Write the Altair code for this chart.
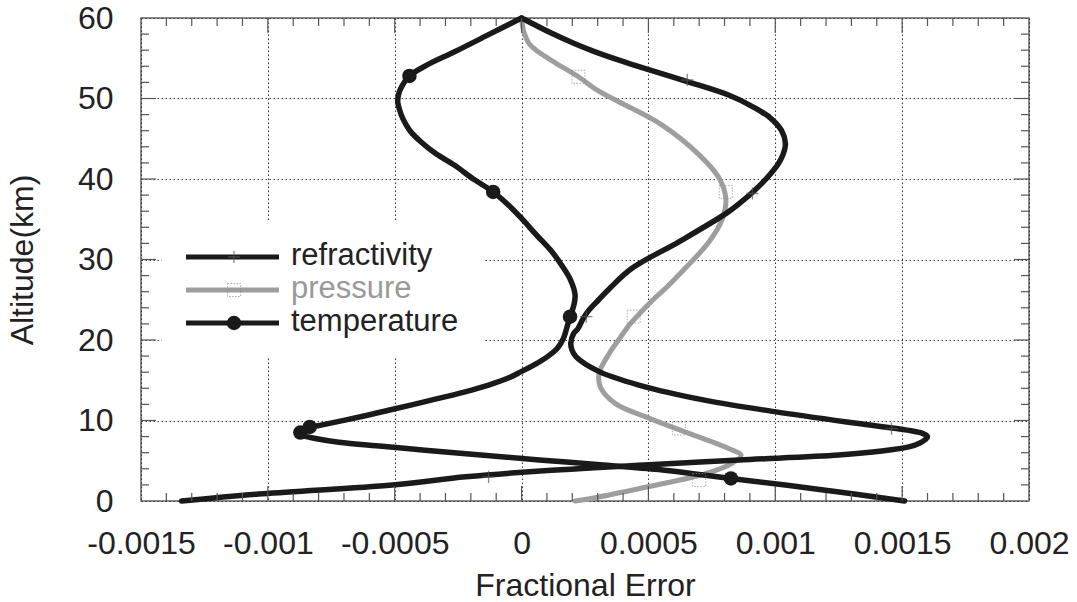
import altair as alt
import pandas as pd

# Fractional retrieval error against altitude (km) for three quantities
refr_alt = [60.0, 58.1, 56.8, 55.8, 54.7, 53.7, 52.1, 50.4, 49.0, 47.6, 46.0, 44.4,
            43.0, 41.8, 40.6, 39.4, 38.2, 37.0, 35.7, 32.2, 28.9, 26.5, 25.0, 23.5,
            22.5, 21.4, 20.8, 19.6, 18.8, 17.9, 16.1, 14.4, 12.5, 11.1, 9.65, 8.8,
            8.4, 8.0, 7.6, 7.2, 6.75, 6.2, 5.7, 5.1, 4.5, 3.7, 3.0, 2.0, 0.9, 0.0]
refr_err = [0.0, 0.000119, 0.00021, 0.00029, 0.00039, 0.000488, 0.000653, 0.000818,
            0.00091, 0.00098, 0.001025, 0.00104, 0.00103, 0.00101, 0.00098, 0.000945,
            0.000905, 0.00086, 0.000805, 0.00062, 0.000435, 0.00035, 0.000304, 0.00026,
            0.00024, 0.000222, 0.000205, 0.000194, 0.000198, 0.000215, 0.000304,
            0.000462, 0.000726, 0.000997, 0.00132, 0.00152, 0.00158, 0.0016, 0.00159,
            0.00157, 0.00153, 0.00142, 0.00125, 0.000858, 0.000502, 0.00006, -0.00022,
            -0.00051, -0.00102, -0.00134]

pres_alt = [60.0, 58.8, 57.9, 56.8, 55.8, 54.5, 52.7, 51.0, 49.6, 46.7, 43.0, 40.1,
            37.6, 35.1, 32.2, 28.1, 26.5, 25.0, 23.5, 22.0, 20.0, 18.3, 15.9, 14.2,
            12.1, 10.3, 8.4, 6.5, 5.7, 4.7, 3.4, 1.8, 0.5, 0.0]
pres_err = [0.0, 0.000005, 0.000013, 0.00003, 0.000066, 0.00013, 0.000224, 0.0003,
            0.000383, 0.000554, 0.0007, 0.000779, 0.000805, 0.000792, 0.000739, 0.00062,
            0.00057, 0.000518, 0.000472, 0.000428, 0.000382, 0.000345, 0.000306,
            0.00031, 0.00037, 0.000502, 0.00066, 0.000818, 0.000865, 0.000831,
            0.000726, 0.000502, 0.000304, 0.000211]

temp_alt = [60.0, 57.9, 55.8, 54.2, 52.8, 51.5, 50.5, 49.6, 48.5, 47.5, 46.0, 44.6,
            43.2, 41.7, 40.0, 38.4, 36.7, 35.1, 33.0, 31.0, 29.2, 27.6, 25.6, 24.2,
            22.9, 21.5, 20.2, 19.0, 18.0, 17.0, 16.1, 15.3, 14.4, 13.5, 12.5, 11.3,
            10.5, 9.4, 9.15, 8.7, 8.4, 8.1, 7.8, 7.3, 6.8, 6.3, 5.7, 5.1, 4.5, 3.9,
            3.3, 2.8, 1.5, 0.0]
temp_err = [0.0, -0.000132, -0.000264, -0.00037, -0.000442, -0.000472, -0.000485,
            -0.000488, -0.00048, -0.000468, -0.00044, -0.000396, -0.00034, -0.000264,
            -0.00019, -0.000112, -0.00005, 0.0, 0.00006, 0.000119, 0.00016, 0.000191,
            0.000211, 0.000205, 0.000191, 0.000178, 0.000165, 0.000142, 0.000105,
            0.000055, 0.0, -0.00005, -0.00013, -0.00023, -0.00036, -0.00052, -0.00063,
            -0.000795, -0.000835, -0.00087, -0.000877, -0.00086, -0.000818, -0.00072,
            -0.00055, -0.00038, -0.00016, 0.00007, 0.00031, 0.00054, 0.0007, 0.000825,
            0.00116, 0.00151]

# Symbol positions along each profile
refr_mk_alt = [52.3, 38.2, 22.9, 9.0, 3.0]
refr_mk_err = [0.000653, 0.00091, 0.000255, 0.001458, -0.00013]
pres_mk_alt = [52.7, 38.4, 22.9, 9.0, 2.6]
pres_mk_err = [0.000224, 0.000805, 0.000442, 0.00062, 0.0007]
temp_mk_alt = [52.8, 38.4, 22.9, 9.2, 8.5, 2.8]
temp_mk_err = [-0.000442, -0.000112, 0.000191, -0.000835, -0.000872, 0.000825]

series_names = ["refractivity", "pressure", "temperature"]

x_ticks = [-0.0015, -0.001, -0.0005, 0, 0.0005, 0.001, 0.0015, 0.002]
y_ticks = [0, 10, 20, 30, 40, 50, 60]

W, H = 888, 483
FONT = "Liberation Sans"
TXT = "#222222"
DARK = "#1a1a1a"
GREY = "#9e9e9e"
GRID = "#3a3a3a"

x_scale = alt.Scale(domain=[-0.0015, 0.002], nice=False, zero=False)
y_scale = alt.Scale(domain=[0, 60], nice=False, zero=False)

x_axis = alt.Axis(
    values=x_ticks,
    labelExpr="datum.value < 0 ? '-' + format(-datum.value, '~g') : format(datum.value, '~g')",
    grid=True, gridDash=[1.5, 2.5], gridColor=GRID, gridWidth=1.1,
    ticks=False, tickSize=0, domain=False,
    labelFont=FONT, labelFontSize=32, labelColor=TXT, labelPadding=27,
    labelFlush=False, labelOverlap=False,
    title="Fractional Error", titleFont=FONT, titleFontSize=32,
    titleFontWeight="normal", titleColor=TXT,
    titleX=W / 2, titleY=94, titleBaseline="alphabetic",
)
y_axis = alt.Axis(
    values=y_ticks,
    grid=True, gridDash=[1.5, 2.5], gridColor=GRID, gridWidth=1.1,
    ticks=False, tickSize=0, domain=False,
    labelFont=FONT, labelFontSize=32, labelColor=TXT, labelPadding=28,
    labelFlush=False, labelOverlap=False,
    title="Altitude(km)", titleFont=FONT, titleFontSize=32,
    titleFontWeight="normal", titleColor=TXT,
    titleX=-109, titleY=H / 2, titleBaseline="alphabetic", titleAngle=270,
)


def X():
    return alt.X("err:Q", scale=x_scale, axis=x_axis)


def Y():
    return alt.Y("alt:Q", scale=y_scale, axis=y_axis)


def profile(alts, errs):
    return pd.DataFrame({"alt": alts, "err": errs, "k": list(range(len(alts)))})


def points(alts, errs):
    return pd.DataFrame({"alt": alts, "err": errs})


one = pd.DataFrame({"u": [0]})

# White panel behind the key, masking the grid
key_box = alt.Chart(one).mark_rect(color="white").encode(
    x=alt.value(21), x2=alt.value(343), y=alt.value(202), y2=alt.value(339)
)


def curve(df, color, width):
    return alt.Chart(df).mark_line(
        color=color, strokeWidth=width, interpolate="catmull-rom",
        strokeJoin="round", strokeCap="round"
    ).encode(x=X(), y=Y(), order="k:Q")


refr_line = curve(profile(refr_alt, refr_err), DARK, 5.5)
pres_line = curve(profile(pres_alt, pres_err), GREY, 5)
temp_line = curve(profile(temp_alt, temp_err), DARK, 5.5)

PLUS = "M0,-1V1M-1,0H1"
refr_marks = alt.Chart(points(refr_mk_alt, refr_mk_err)).mark_point(
    shape=PLUS, size=150, stroke="#555555", strokeWidth=1.3, filled=False
).encode(x=X(), y=Y())
pres_marks = alt.Chart(points(pres_mk_alt, pres_mk_err)).mark_point(
    shape="square", size=170, stroke="#8a8a8a", strokeWidth=1, strokeDash=[1.5, 1.5],
    filled=False
).encode(x=X(), y=Y())
temp_marks = alt.Chart(points(temp_mk_alt, temp_mk_err)).mark_point(
    shape="circle", size=210, color=DARK, filled=True, opacity=1
).encode(x=X(), y=Y())

# Inward tick marks on all four sides of the frame
x_minor = [round(-0.0015 + i * 0.0001, 4) for i in range(1, 35) if i % 5]
x_major = [v for v in x_ticks[1:-1]]
y_minor = [v for v in range(2, 60, 2) if v % 10]
y_major = [v for v in y_ticks[1:-1]]
TICK = "#555555"


def xticks(vals, length):
    df = pd.DataFrame({"err": vals})
    bottom = alt.Chart(df).mark_rule(color=TICK, strokeWidth=1.2).encode(
        x=X(), y=alt.value(H), y2=alt.value(H - length))
    top = alt.Chart(df).mark_rule(color=TICK, strokeWidth=1.2).encode(
        x=X(), y=alt.value(0), y2=alt.value(length))
    return [bottom, top]


def yticks(vals, length):
    df = pd.DataFrame({"alt": vals})
    left = alt.Chart(df).mark_rule(color=TICK, strokeWidth=1.2).encode(
        y=Y(), x=alt.value(0), x2=alt.value(length))
    right = alt.Chart(df).mark_rule(color=TICK, strokeWidth=1.2).encode(
        y=Y(), x=alt.value(W), x2=alt.value(W - length))
    return [left, right]


tick_layers = xticks(x_minor, 8) + xticks(x_major, 15) + yticks(y_minor, 8) + yticks(y_major, 15)

# Key: line sample, symbol and label for each series
key_layers = []
row_y = [239, 272, 305]
line_colors = [DARK, GREY, DARK]
text_colors = [TXT, "#9a9a9a", TXT]
for i, name in enumerate(series_names):
    df = pd.DataFrame({"label": [name]})
    key_layers.append(alt.Chart(df).mark_rule(color=line_colors[i], strokeWidth=5).encode(
        x=alt.value(45), x2=alt.value(138), y=alt.value(row_y[i])))
    if name == "refractivity":
        sym = alt.Chart(df).mark_point(shape=PLUS, size=150, stroke="#555555",
                                       strokeWidth=1.3, filled=False)
    elif name == "pressure":
        sym = alt.Chart(df).mark_point(shape="square", size=170, stroke="#8a8a8a",
                                       strokeWidth=1, strokeDash=[1.5, 1.5], filled=False)
    else:
        sym = alt.Chart(df).mark_point(shape="circle", size=210, color=DARK,
                                       filled=True, opacity=1)
    key_layers.append(sym.encode(x=alt.value(93), y=alt.value(row_y[i])))
    key_layers.append(alt.Chart(df).mark_text(
        align="left", baseline="alphabetic", font=FONT, fontSize=31, color=text_colors[i]
    ).encode(x=alt.value(150), y=alt.value(row_y[i] + 8), text="label:N"))

chart = alt.layer(
    key_box, pres_line, refr_line, temp_line, refr_marks, pres_marks, temp_marks,
    *tick_layers, *key_layers
).properties(
    width=W, height=H,
    padding={"left": 141, "top": 18, "right": 48, "bottom": 101},
    autosize=alt.AutoSizeParams(type="none"),
    background="white",
).configure_view(
    stroke="#666666", strokeWidth=1.5
)

chart.save("out.html", embed_options={"renderer": "svg", "actions": False})
